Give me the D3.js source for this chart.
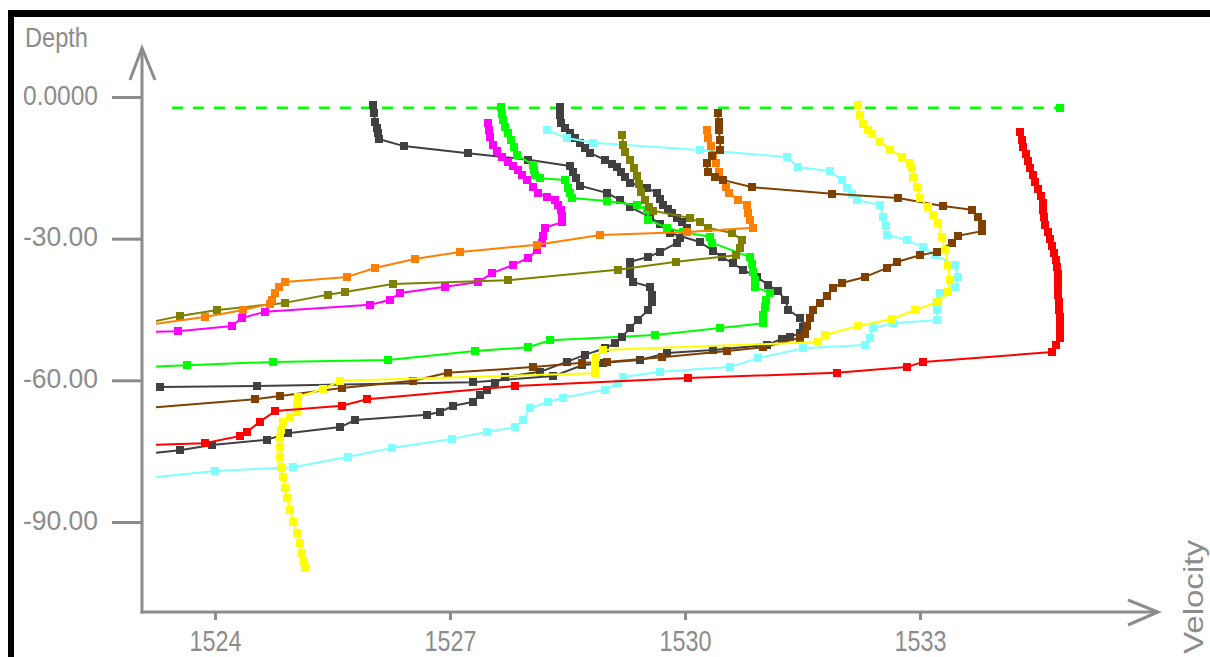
<!DOCTYPE html>
<html>
<head>
<meta charset="utf-8">
<script src="https://cdn.jsdelivr.net/npm/d3@7"></script>
<style>
  html, body { margin: 0; padding: 0; background: #fff; }
  svg { display: block; }
</style>
</head>
<body>
<svg id="chart" width="1210" height="657"></svg>
<script>
// ---- axis ticks ----
const xTicks = [1524, 1527, 1530, 1533];
const yTicks = [0, -30, -60, -90];
const yTickLabels = ["0.0000", "-30.00", "-60.00", "-90.00"];

// ---- sound-velocity profiles: [velocity, depth] ----
const surfaceVel = [1523.45, 1534.79];
const surfaceDepth = -2.3;

const profileGrayA = [
  [1526.02,-1.7],[1526.03,-3.4],[1526.04,-5.3],[1526.07,-6.6],[1526.08,-7.6],[1526.09,-8.9],
  [1526.41,-10.4],[1527.23,-11.9],[1528.00,-13.3],[1528.53,-14.6],[1528.57,-15.9],[1528.61,-17.2],
  [1528.66,-18.8],[1529.00,-20.3],[1529.17,-21.8],[1529.30,-23.3],[1529.55,-25.4],[1529.68,-26.9],
  [1529.81,-28.8],[1530.19,-30.7],[1530.36,-32.6],[1530.47,-33.9],[1530.61,-35.2],[1530.74,-36.6],
  [1530.92,-38.1],[1531.06,-39.8],[1531.19,-41.1],[1531.28,-43.0],[1531.32,-45.1],[1531.47,-46.8],
  [1531.51,-48.7],[1531.47,-50.0],[1531.34,-50.8],[1531.24,-51.2],[1531.05,-52.5],[1530.36,-53.6],
  [1529.77,-54.2],[1529.43,-55.7],[1528.95,-56.3],[1528.69,-56.8],[1528.32,-59.1],[1527.29,-60.4],
  [1524.54,-61.2],[1523.30,-61.4]
];

const profileGrayB = [
  [1528.40,-2.1],[1528.40,-3.8],[1528.42,-5.5],[1528.47,-6.6],[1528.53,-7.6],[1528.60,-8.7],
  [1528.66,-9.7],[1528.72,-10.8],[1528.79,-11.9],[1528.98,-13.3],[1529.07,-14.2],[1529.13,-14.8],
  [1529.18,-15.9],[1529.23,-16.9],[1529.30,-18.2],[1529.52,-19.3],[1529.64,-20.3],[1529.68,-21.6],
  [1529.72,-22.9],[1529.78,-23.7],[1529.83,-24.6],[1529.90,-25.6],[1529.96,-26.5],[1530.03,-27.7],
  [1529.94,-29.9],[1529.90,-30.9],[1529.68,-32.8],[1529.53,-33.9],[1529.30,-34.9],[1529.30,-36.2],
  [1529.30,-37.5],[1529.34,-39.2],[1529.55,-40.2],[1529.58,-41.9],[1529.58,-43.4],[1529.53,-45.1],
  [1529.40,-47.2],[1529.30,-48.9],[1529.20,-50.8],[1529.11,-52.1],[1528.98,-53.2],[1528.72,-54.6],
  [1528.49,-56.1],[1528.15,-58.2],[1527.70,-59.3],[1527.57,-60.6],[1527.47,-62.1],[1527.38,-63.1],
  [1527.29,-64.6],[1527.04,-65.4],[1526.87,-66.7],[1526.71,-67.3],[1525.79,-68.4],[1525.60,-69.9],
  [1524.93,-71.2],[1524.66,-72.6],[1523.96,-73.7],[1523.55,-74.8],[1523.11,-75.6]
];

const profileMagenta = [
  [1527.49,-5.5],[1527.50,-7.0],[1527.51,-8.5],[1527.55,-10.2],[1527.60,-11.4],[1527.66,-12.7],
  [1527.74,-13.8],[1527.80,-14.6],[1527.87,-15.5],[1527.92,-16.5],[1527.98,-17.6],[1528.06,-19.1],
  [1528.12,-20.3],[1528.24,-21.2],[1528.34,-21.8],[1528.38,-22.9],[1528.42,-23.9],[1528.43,-25.2],
  [1528.43,-26.5],[1528.21,-27.7],[1528.19,-29.4],[1528.17,-30.9],[1528.11,-32.4],[1528.00,-34.1],
  [1527.80,-35.6],[1527.54,-37.3],[1527.36,-39.2],[1526.94,-40.2],[1526.36,-41.5],[1526.23,-43.0],
  [1525.98,-44.0],[1524.64,-45.5],[1524.34,-46.8],[1524.22,-48.5],[1523.53,-49.6],[1523.11,-49.8]
];

const profileGreen = [
  [1527.65,-2.1],[1527.66,-3.6],[1527.68,-4.9],[1527.70,-6.4],[1527.74,-7.6],[1527.78,-9.1],
  [1527.82,-10.6],[1527.86,-12.3],[1528.06,-14.4],[1528.07,-15.5],[1528.09,-16.5],[1528.15,-17.2],
  [1528.47,-17.6],[1528.51,-19.3],[1528.53,-20.3],[1528.56,-21.4],[1529.00,-22.0],[1529.39,-22.9],
  [1529.52,-23.9],[1529.53,-26.0],[1529.77,-27.7],[1529.97,-28.6],[1530.32,-29.6],[1530.35,-30.9],
  [1530.83,-33.9],[1530.86,-35.4],[1530.87,-37.1],[1530.89,-38.8],[1530.89,-40.2],[1531.09,-41.5],
  [1531.03,-43.0],[1531.02,-44.5],[1531.00,-46.2],[1531.00,-47.9],[1530.45,-48.9],[1529.62,-50.4],
  [1528.28,-51.5],[1528.00,-53.0],[1527.32,-53.8],[1526.21,-55.7],[1524.74,-56.1],[1523.64,-56.8],
  [1523.11,-57.2]
];

const profileCyan = [
  [1528.24,-7.0],[1528.49,-8.7],[1528.83,-9.7],[1530.19,-11.2],[1531.30,-12.7],[1531.44,-14.8],
  [1531.85,-15.7],[1532.00,-17.6],[1532.07,-19.3],[1532.13,-20.5],[1532.20,-21.8],[1532.49,-22.9],
  [1532.53,-25.4],[1532.56,-27.3],[1532.58,-29.2],[1532.83,-30.3],[1533.04,-31.8],[1533.19,-33.5],
  [1533.45,-35.6],[1533.49,-38.1],[1533.45,-40.2],[1533.26,-41.5],[1533.22,-43.4],[1533.22,-45.1],
  [1533.22,-47.2],[1532.66,-47.9],[1532.40,-48.9],[1532.36,-51.0],[1532.30,-52.5],[1531.51,-53.2],
  [1530.93,-55.3],[1530.57,-57.2],[1529.68,-58.2],[1529.21,-59.3],[1529.14,-60.6],[1528.98,-62.0],
  [1528.44,-63.7],[1528.25,-64.6],[1528.02,-65.9],[1527.93,-68.4],[1527.83,-69.9],[1527.47,-70.9],
  [1527.03,-72.4],[1526.26,-74.3],[1525.70,-76.2],[1525.00,-78.4],[1524.00,-79.2],[1523.11,-80.7]
];

const profileOlive = [
  [1529.20,-8.0],[1529.21,-10.2],[1529.23,-11.6],[1529.30,-13.3],[1529.35,-15.0],[1529.39,-16.7],
  [1529.41,-18.4],[1529.44,-20.1],[1529.49,-21.8],[1529.54,-23.3],[1529.59,-24.1],[1530.06,-25.6],
  [1530.19,-26.5],[1530.29,-27.7],[1530.60,-28.8],[1530.73,-30.3],[1530.70,-32.0],[1530.65,-33.5],
  [1529.89,-34.9],[1529.14,-36.6],[1527.74,-38.8],[1526.27,-39.6],[1525.66,-41.3],[1525.44,-41.9],
  [1524.89,-43.6],[1524.03,-45.1],[1523.55,-46.4],[1523.11,-47.9]
];

const profileOrange = [
  [1530.28,-7.0],[1530.29,-8.7],[1530.33,-10.4],[1530.36,-12.3],[1530.40,-14.0],[1530.43,-15.9],
  [1530.49,-17.6],[1530.52,-19.1],[1530.56,-20.3],[1530.68,-21.8],[1530.79,-22.9],[1530.80,-24.6],
  [1530.83,-26.0],[1530.87,-27.7],[1530.03,-28.6],[1528.92,-29.2],[1528.11,-31.3],[1527.13,-32.8],
  [1526.55,-34.3],[1526.04,-36.2],[1525.69,-38.1],[1524.89,-39.2],[1524.82,-40.2],[1524.77,-41.5],
  [1524.73,-43.0],[1524.70,-43.8],[1524.36,-45.1],[1523.87,-46.6],[1523.11,-48.3]
];

const profileBrown = [
  [1530.42,-3.4],[1530.43,-5.3],[1530.43,-7.0],[1530.45,-9.1],[1530.45,-11.2],[1530.34,-12.5],
  [1530.28,-14.0],[1530.29,-15.9],[1530.38,-16.9],[1530.49,-17.6],[1530.86,-19.1],[1531.88,-20.5],
  [1532.72,-21.4],[1533.29,-23.1],[1533.66,-23.9],[1533.74,-25.4],[1533.79,-26.9],[1533.79,-28.4],
  [1533.49,-29.4],[1533.41,-30.9],[1533.22,-32.8],[1533.00,-33.5],[1532.71,-34.9],[1532.58,-36.2],
  [1532.30,-38.1],[1532.00,-39.4],[1531.89,-40.4],[1531.81,-42.1],[1531.72,-43.6],[1531.63,-45.1],
  [1531.60,-46.8],[1531.56,-48.5],[1531.53,-50.2],[1531.47,-51.0],[1531.00,-53.0],[1530.54,-53.8],
  [1529.71,-55.1],[1529.00,-56.1],[1528.69,-56.3],[1528.06,-57.2],[1526.97,-58.4],[1526.53,-60.1],
  [1525.62,-61.6],[1524.83,-63.3],[1524.51,-64.0],[1523.11,-65.9]
];

const profileYellow = [
  [1532.21,-1.7],[1532.23,-3.8],[1532.27,-5.7],[1532.34,-7.0],[1532.39,-7.8],[1532.49,-9.5],
  [1532.62,-11.2],[1532.77,-12.7],[1532.87,-14.0],[1532.90,-15.0],[1532.91,-16.9],[1532.96,-19.1],
  [1533.00,-21.4],[1533.10,-23.3],[1533.17,-25.0],[1533.23,-26.7],[1533.28,-29.6],[1533.32,-32.4],
  [1533.36,-35.6],[1533.38,-38.8],[1533.36,-41.3],[1533.23,-43.4],[1532.94,-45.1],[1532.64,-47.0],
  [1532.21,-48.5],[1531.79,-50.4],[1531.70,-51.9],[1528.95,-53.6],[1528.86,-55.1],[1528.85,-56.8],
  [1528.85,-58.5],[1525.60,-60.1],[1525.38,-61.8],[1525.06,-63.5],[1525.05,-65.2],[1525.05,-66.7],
  [1524.96,-67.8],[1524.87,-68.8],[1524.84,-70.5],[1524.83,-72.2],[1524.83,-74.1],[1524.83,-76.2],
  [1524.84,-78.4],[1524.87,-80.5],[1524.89,-82.8],[1524.92,-84.9],[1524.96,-87.5],[1525.00,-90.0],
  [1525.05,-92.3],[1525.09,-94.5],[1525.11,-96.6],[1525.14,-98.5],[1525.15,-99.7]
];

const profileRed = [
  [1534.28,-7.5],[1534.30,-9.0],[1534.32,-10.5],[1534.35,-12.0],[1534.38,-13.5],[1534.41,-15.0],
  [1534.44,-16.5],[1534.47,-18.0],[1534.50,-19.5],[1534.54,-21.0],[1534.57,-22.5],[1534.57,-24.0],
  [1534.58,-25.5],[1534.60,-27.0],[1534.63,-28.5],[1534.66,-30.0],[1534.69,-31.5],[1534.71,-33.0],
  [1534.74,-34.5],[1534.75,-36.0],[1534.76,-37.5],[1534.76,-39.0],[1534.76,-40.5],[1534.76,-42.0],
  [1534.77,-43.5],[1534.77,-45.0],[1534.79,-46.5],[1534.79,-48.0],[1534.79,-49.5],[1534.79,-51.0],
  [1534.74,-52.5],[1534.69,-54.0],[1533.04,-56.1],[1532.83,-57.2],[1531.94,-58.4],[1530.04,-59.5],
  [1527.83,-61.2],[1525.94,-64.0],[1525.62,-65.4],[1524.77,-66.5],[1524.57,-68.8],[1524.41,-70.9],
  [1524.32,-71.8],[1523.87,-73.3],[1523.11,-73.7]
];

const seriesList = [
  { data: profileGrayA,   color: "#404040" },
  { data: profileMagenta, color: "#ff00ff" },
  { data: profileGreen,   color: "#00ff00" },
  { data: profileGrayB,   color: "#404040" },
  { data: profileCyan,    color: "#80ffff" },
  { data: profileOlive,   color: "#808000" },
  { data: profileOrange,  color: "#ff8000" },
  { data: profileBrown,   color: "#804000" },
  { data: profileYellow,  color: "#ffff00" },
  { data: profileRed,     color: "#ff0000" }
];

// ---- layout ----
const W = 1210, H = 657;
const axisColor = "#8c8c8c";
const axisX0 = 142, axisY0 = 612, axisTop = 48, axisRight = 1158;
const markerSize = 8;

const svg = d3.select("#chart");

const x = d3.scaleLinear().domain([1524, 1533]).range([215, 920]);
const y = d3.scaleLinear().domain([0, -90]).range([97, 522]);

// frame
svg.append("rect").attr("x", 0).attr("y", 0).attr("width", W).attr("height", H).attr("fill", "#fff");
svg.append("rect").attr("x", 8).attr("y", 10).attr("width", 6).attr("height", H).attr("fill", "#000");
svg.append("rect").attr("x", 8).attr("y", 10).attr("width", W).attr("height", 7).attr("fill", "#000");

// plot clip
svg.append("defs").append("clipPath").attr("id", "plotClip")
  .append("rect").attr("x", 156).attr("y", 40).attr("width", 1040).attr("height", 570);

const plot = svg.append("g").attr("clip-path", "url(#plotClip)");
const line = d3.line().x(d => x(d[0])).y(d => y(d[1]));

// surface reference line (dashed) with a marker at its far end
plot.append("path")
  .datum(surfaceVel.map(v => [v, surfaceDepth]))
  .attr("d", line)
  .attr("fill", "none").attr("stroke", "#00ff00").attr("stroke-width", 2.5)
  .attr("stroke-dasharray", "11,10");
plot.append("rect")
  .attr("x", x(surfaceVel[1]) - markerSize / 2).attr("y", y(surfaceDepth) - markerSize / 2)
  .attr("width", markerSize).attr("height", markerSize)
  .attr("fill", "#00ff00").attr("shape-rendering", "crispEdges");

// profiles
seriesList.forEach(s => {
  const g = plot.append("g");
  g.append("path").datum(s.data).attr("d", line)
    .attr("fill", "none").attr("stroke", s.color).attr("stroke-width", 2)
    .attr("stroke-linejoin", "round");
  g.selectAll("rect").data(s.data).join("rect")
    .attr("x", d => x(d[0]) - markerSize / 2)
    .attr("y", d => y(d[1]) - markerSize / 2)
    .attr("width", markerSize).attr("height", markerSize)
    .attr("fill", s.color).attr("shape-rendering", "crispEdges");
});

// ---- axes ----
const fontFamily = "'Liberation Sans', Arial, sans-serif";

const yAxis = d3.axisLeft(y).tickValues(yTicks).tickSize(30).tickPadding(14)
  .tickFormat((d, i) => yTickLabels[i]);
const gy = svg.append("g").attr("transform", `translate(${axisX0},0)`).call(yAxis);
gy.select(".domain").remove();
gy.selectAll(".tick line").attr("stroke", axisColor).attr("stroke-width", 3);
gy.selectAll(".tick text")
  .attr("fill", axisColor).attr("font-family", fontFamily).attr("font-size", 28)
  .attr("dy", "0.25em").attr("textLength", 75).attr("lengthAdjust", "spacingAndGlyphs");

const xAxis = d3.axisBottom(x).tickValues(xTicks).tickSize(8).tickPadding(8)
  .tickFormat(d3.format("d"));
const gx = svg.append("g").attr("transform", `translate(0,${axisY0})`).call(xAxis);
gx.select(".domain").remove();
gx.selectAll(".tick line").attr("stroke", axisColor).attr("stroke-width", 3);
gx.selectAll(".tick text")
  .attr("fill", axisColor).attr("font-family", fontFamily).attr("font-size", 29)
  .attr("dy", "0.8em").attr("textLength", 52).attr("lengthAdjust", "spacingAndGlyphs");

// axis lines with arrow heads
const axisStroke = { stroke: axisColor, "stroke-width": 3, fill: "none" };
function styled(sel) { Object.entries(axisStroke).forEach(([k, v]) => sel.attr(k, v)); return sel; }
styled(svg.append("path").attr("d", `M${axisX0},${axisY0 + 1.5}V${axisTop}`));
styled(svg.append("path").attr("d", `M${axisX0 - 1.5},${axisY0}H${axisRight}`));
styled(svg.append("path").attr("d", `M${axisX0 - 12},${axisTop + 32}L${axisX0},${axisTop}L${axisX0 + 13},${axisTop + 32}`));
styled(svg.append("path").attr("d", `M${axisRight - 30},${axisY0 - 12}L${axisRight},${axisY0}L${axisRight - 30},${axisY0 + 13}`));

// axis titles
svg.append("text").text("Depth")
  .attr("x", 25).attr("y", 47)
  .attr("fill", axisColor).attr("font-family", fontFamily).attr("font-size", 28)
  .attr("textLength", 63).attr("lengthAdjust", "spacingAndGlyphs");
svg.append("text").text("Velocity")
  .attr("transform", "translate(1203,654) rotate(-90)")
  .attr("fill", axisColor).attr("font-family", fontFamily).attr("font-size", 27)
  .attr("textLength", 114).attr("lengthAdjust", "spacingAndGlyphs");
</script>
</body>
</html>
